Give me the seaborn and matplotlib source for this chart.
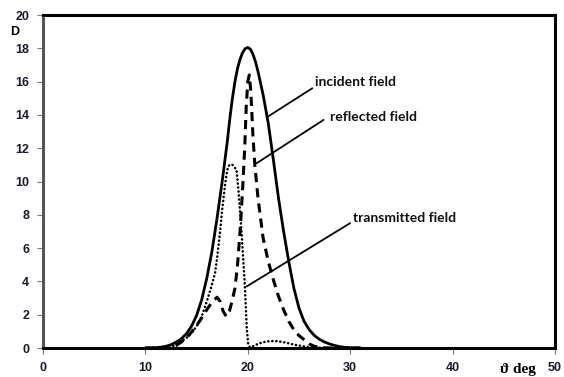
import matplotlib
matplotlib.use("Agg")
import matplotlib.pyplot as plt
import seaborn as sns
import pandas as pd

# Angular distributions D(theta) of the three fields
theta_inc = [10, 11, 11.5, 12, 12.5, 13, 13.5, 14, 14.5, 15, 15.5, 16, 16.5, 17, 17.5,
             18, 18.25, 18.5, 18.75, 19, 19.25, 19.5, 19.75, 20, 20.25, 20.5, 20.75,
             21, 21.5, 22, 22.5, 23, 23.5, 24, 24.5, 25, 25.5, 26, 26.5, 27, 27.5,
             28, 28.5, 29, 29.5, 30, 31]
d_inc = [0.0, 0.02, 0.05, 0.1, 0.2, 0.35, 0.55, 0.85, 1.3, 1.95, 2.9, 4.2, 5.8, 7.8, 10.0,
         12.4, 13.8, 15.0, 16.0, 16.8, 17.35, 17.75, 17.98, 18.05, 17.95, 17.65, 17.2,
         16.6, 15.2, 13.5, 11.3, 9.0, 7.0, 5.2, 3.6, 2.4, 1.6, 1.1, 0.75, 0.52, 0.36,
         0.24, 0.15, 0.08, 0.04, 0.02, 0.0]

theta_ref = [10, 11, 12, 12.5, 13, 13.5, 14, 14.5, 15, 15.5, 16, 16.5, 17, 17.3, 17.6,
             17.9, 18.2, 18.5, 18.75, 19, 19.25, 19.5, 19.7, 19.85, 20.0, 20.15, 20.3,
             20.5, 20.7, 21, 21.5, 22, 22.5, 23, 23.5, 24, 24.5, 25, 25.5, 26, 26.5,
             27, 28, 31]
d_ref = [0.0, 0.0, 0.02, 0.05, 0.15, 0.35, 0.6, 0.95, 1.35, 1.8, 2.3, 2.75, 3.05, 2.8, 2.2,
         1.9, 2.2, 2.9, 3.6, 5.0, 7.0, 9.6, 12.0, 14.5, 16.0, 16.4, 15.4,
         12.8, 10.9, 9.0, 6.6, 5.2, 4.1, 3.1, 2.3, 1.6, 1.1, 0.75, 0.5, 0.25, 0.1,
         0.03, 0.0, 0.0]

theta_tr = [10, 12, 12.5, 13, 13.5, 14, 14.5, 15, 15.5, 16, 16.5, 16.8, 17, 17.3, 17.5,
            17.8, 18.0, 18.2, 18.5, 18.9, 19.1, 19.4, 19.7, 19.9, 20.05, 20.2, 20.5,
            21, 21.5, 22, 22.5, 23, 23.5, 24, 24.5, 25, 25.5, 26, 27, 28, 31]
d_tr = [0.0, 0.03, 0.08, 0.2, 0.4, 0.6, 0.9, 1.3, 1.9, 2.8, 3.8, 4.5, 5.4, 7.0, 8.3,
        9.9, 10.7, 11.0, 11.0, 10.7, 9.4, 6.9, 3.9, 1.2, 0.2, 0.05, 0.1,
        0.25, 0.35, 0.4, 0.42, 0.4, 0.35, 0.28, 0.2, 0.15, 0.1, 0.05, 0.02, 0.0, 0.0]

x_ticks = [0, 10, 20, 30, 40, 50]
y_ticks = [0, 2, 4, 6, 8, 10, 12, 14, 16, 18, 20]

sns.set_theme(style="white")
plt.rcParams["font.family"] = ["Liberation Sans", "DejaVu Sans"]

fig = plt.figure(figsize=(5.64, 3.77), dpi=100)
ax = fig.add_axes([0.0762, 0.0769, 0.9078, 0.8833])

inc = pd.DataFrame({"theta": theta_inc, "D": d_inc})
ref = pd.DataFrame({"theta": theta_ref, "D": d_ref})
tr = pd.DataFrame({"theta": theta_tr, "D": d_tr})

sns.lineplot(data=tr, x="theta", y="D", ax=ax, color="black", lw=1.8,
             linestyle=(0, (0.1, 1.5)), dash_capstyle="round", zorder=3)
sns.lineplot(data=ref, x="theta", y="D", ax=ax, color="black", lw=2.2,
             linestyle=(0, (3.0, 2.0)), zorder=4)
sns.lineplot(data=inc, x="theta", y="D", ax=ax, color="black", lw=2.0, zorder=5)

ax.set_xlim(0, 50)
ax.set_ylim(0, 20)
ax.set_xticks(x_ticks)
ax.set_yticks(y_ticks)
ax.set_xlabel("")
ax.set_ylabel("")

for s in ("top", "right", "bottom"):
    ax.spines[s].set_visible(True)
    ax.spines[s].set_color("black")
    ax.spines[s].set_linewidth(2.2)
ax.spines["left"].set_color("#555555")
ax.spines["left"].set_linewidth(2.2)

ax.tick_params(axis="both", which="major", direction="out", length=4, width=0.8,
               color="#777777", labelsize=9, labelcolor="#1a1a2a", pad=6,
               bottom=True, left=True)
for lbl in ax.get_xticklabels() + ax.get_yticklabels():
    lbl.set_fontweight("bold")

# Field labels with leader lines
label_font = dict(fontsize=10, fontweight="bold", family=["Lato", "DejaVu Sans"],
                  color="#111111", va="center", ha="left")
ax.text(26.6, 16.0, "incident field", **label_font)
ax.text(28.0, 13.9, "reflected field", **label_font)
ax.text(30.3, 7.8, "transmitted field", **label_font)
ax.plot([26.3, 21.97], [15.6, 13.9], color="black", lw=1.3, zorder=6)
ax.plot([27.4, 20.87], [13.7, 11.1], color="black", lw=1.3, zorder=6)
ax.plot([30.0, 19.9], [7.5, 3.7], color="black", lw=1.3, zorder=6)

fig.text(10 / 564, 1 - 32 / 377, "D", fontsize=9, fontweight="bold",
         ha="left", va="center", color="black")
fig.text(500 / 564, 1 - 370 / 377, "\u03d1 deg", fontsize=11, fontweight="bold",
         family=["Liberation Serif", "DejaVu Serif"], ha="left", va="center",
         color="black")

fig.savefig("out.png", dpi=100)
